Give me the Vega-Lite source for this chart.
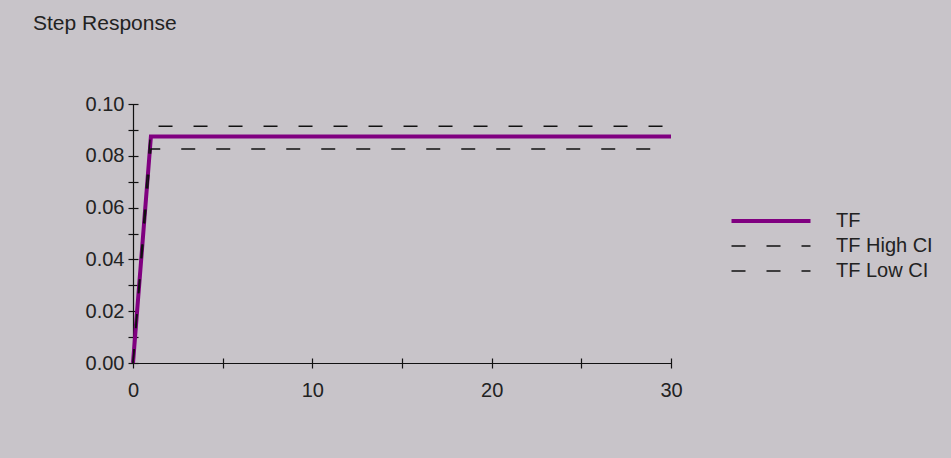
{
  "$schema": "https://vega.github.io/schema/vega-lite/v6.json",
  "autosize": "none",
  "width": 538,
  "height": 259,
  "padding": {"left": 133, "top": 104, "right": 280, "bottom": 95},
  "background": "#c8c4c9",
  "config": {
    "view": {"stroke": null},
    "font": "Liberation Sans"
  },
  "title": {
    "text": "Step Response",
    "anchor": "start",
    "frame": "group",
    "dx": -100,
    "offset": 60,
    "fontSize": 21,
    "fontWeight": "normal",
    "color": "#222222",
    "font": "Liberation Sans"
  },
  "data": {
    "values": [
      {"t": 0, "v": 0, "series": "TF"},
      {"t": 1, "v": 0.0875, "series": "TF"},
      {"t": 30, "v": 0.0875, "series": "TF"},
      {"t": 0, "v": 0, "series": "TF High CI"},
      {"t": 1, "v": 0.0914, "series": "TF High CI"},
      {"t": 30, "v": 0.0914, "series": "TF High CI"},
      {"t": 0, "v": 0, "series": "TF Low CI"},
      {"t": 1, "v": 0.0826, "series": "TF Low CI"},
      {"t": 30, "v": 0.0826, "series": "TF Low CI"}
    ]
  },
  "resolve": {"axis": {"x": "independent", "y": "independent"}},
  "layer": [
    {
      "transform": [{"filter": "datum.series == 'TF'"}],
      "mark": {"type": "line", "clip": false, "strokeWidth": 4},
      "encoding": {
        "x": {
          "field": "t", "type": "quantitative",
          "scale": {"domain": [0, 30], "nice": false, "zero": true},
          "axis": {
            "orient": "bottom", "title": null, "grid": false, "domain": false,
            "offset": -5, "tickSize": 10, "tickColor": "#111111", "tickWidth": 1.2,
            "values": [0, 5, 10, 15, 20, 25, 30],
            "labelExpr": "datum.value % 10 == 0 ? datum.label : ''",
            "labelFontSize": 20, "labelColor": "#222222", "labelPadding": 12,
            "labelFont": "Liberation Sans", "labelFlush": false
          }
        },
        "y": {
          "field": "v", "type": "quantitative",
          "scale": {"domain": [0, 0.1], "nice": false, "zero": true},
          "axis": {
            "orient": "left", "title": null, "grid": false, "domain": false,
            "offset": -5, "tickSize": 10, "tickColor": "#111111", "tickWidth": 1.2,
            "values": [0, 0.01, 0.02, 0.03, 0.04, 0.05, 0.06, 0.07, 0.08, 0.09, 0.1],
            "labelExpr": "round(datum.value * 100) % 2 == 0 ? format(datum.value, '.2f') : ''",
            "labelFontSize": 20, "labelColor": "#222222", "labelPadding": 4,
            "labelFont": "Liberation Sans", "labelFlush": false
          }
        },
        "color": {
          "field": "series", "type": "nominal",
          "scale": {"domain": ["TF", "TF High CI", "TF Low CI"], "range": ["#800080", "#111111", "#111111"]},
          "legend": {
            "orient": "none", "legendX": 628, "legendY": 107,
            "title": null, "padding": 0,
            "symbolType": "M-4,0H4", "symbolSize": 390,
            "labelFontSize": 20, "labelColor": "#222222", "labelFont": "Liberation Sans",
            "labelOffset": 55, "rowPadding": 5,
            "encode": {
              "symbols": {"update": {"strokeWidth": {"signal": "datum.value == 'TF' ? 4 : 1.5"}, "fill": {"value": "transparent"}}}
            }
          }
        },
        "strokeDash": {
          "field": "series", "type": "nominal",
          "scale": {"domain": ["TF", "TF High CI", "TF Low CI"], "range": [[1, 0], [14, 21], [14, 21]]}
        }
      }
    },
    {
      "transform": [{"filter": "datum.series != 'TF'"}],
      "mark": {"type": "line", "clip": false, "strokeWidth": 1.5},
      "encoding": {
        "x": {"field": "t", "type": "quantitative", "axis": null},
        "y": {"field": "v", "type": "quantitative", "axis": null},
        "color": {"field": "series", "type": "nominal"},
        "strokeDash": {"field": "series", "type": "nominal"}
      }
    },
    {
      "mark": {"type": "point", "opacity": 0},
      "encoding": {
        "x": {
          "field": "t", "type": "quantitative",
          "axis": {"orient": "bottom", "title": null, "grid": false, "domain": true, "domainColor": "#111111", "domainWidth": 1.2, "ticks": false, "labels": false}
        },
        "y": {
          "field": "v", "type": "quantitative",
          "axis": {"orient": "left", "title": null, "grid": false, "domain": true, "domainColor": "#111111", "domainWidth": 1.2, "ticks": false, "labels": false}
        }
      }
    }
  ]
}
